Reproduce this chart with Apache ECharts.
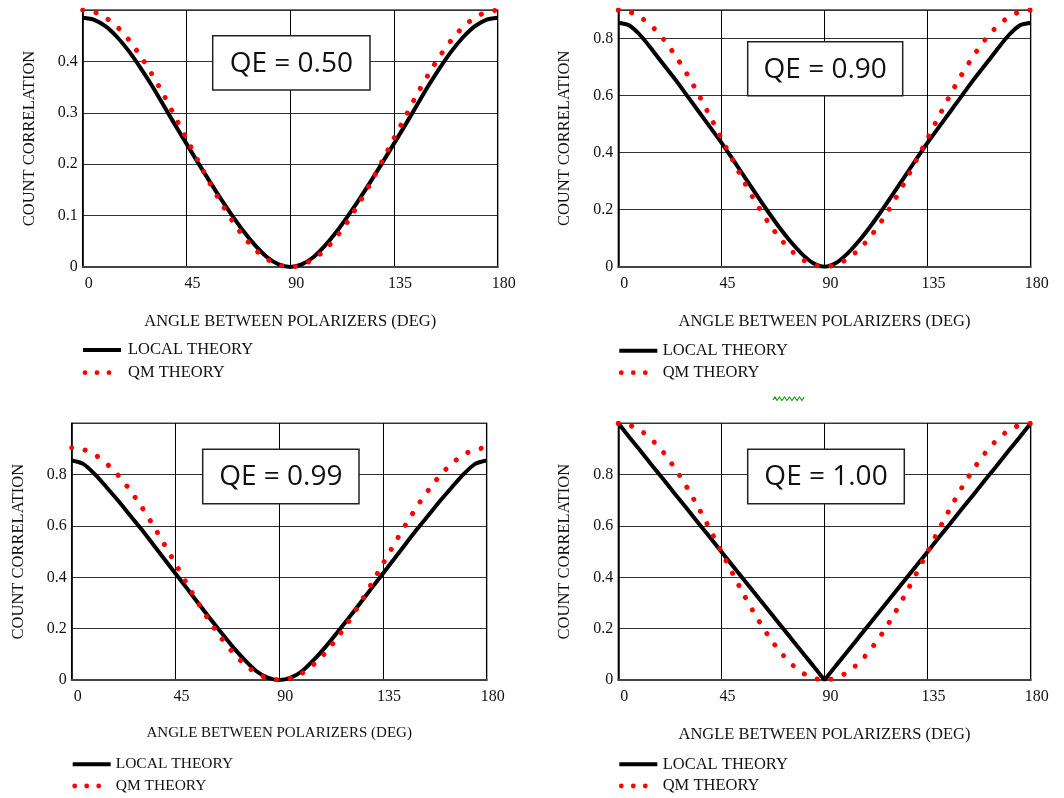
<!DOCTYPE html>
<html>
<head>
<meta charset="utf-8">
<script src="https://cdn.jsdelivr.net/npm/echarts@6/dist/echarts.min.js"></script>
<style>
html,body{margin:0;padding:0;background:#fff;}
#chart{width:1064px;height:798px;}
</style>
</head>
<body>
<div id="chart"></div>
<script>
// ---- data ----
const angles = [0,5,10,15,20,25,30,35,40,45,50,55,60,65,70,75,80,85,90,95,100,105,110,115,120,125,130,135,140,145,150,155,160,165,170,175,180];

const localQE050 = [0.485,0.481,0.468,0.447,0.420,0.388,0.353,0.315,0.277,0.240,0.203,0.167,0.132,0.099,0.068,0.041,0.019,0.005,0.000,0.005,0.019,0.041,0.068,0.099,0.132,0.167,0.203,0.240,0.277,0.315,0.353,0.388,0.420,0.447,0.468,0.481,0.485];
const qmQE050    = [0.500,0.496,0.485,0.467,0.442,0.411,0.375,0.336,0.293,0.250,0.207,0.164,0.125,0.089,0.058,0.033,0.015,0.004,0.000,0.004,0.015,0.033,0.058,0.089,0.125,0.164,0.207,0.250,0.293,0.336,0.375,0.411,0.442,0.467,0.485,0.496,0.500];

const localQE090 = [0.855,0.845,0.808,0.758,0.706,0.655,0.600,0.545,0.490,0.435,0.376,0.316,0.256,0.197,0.141,0.090,0.046,0.013,0.000,0.013,0.046,0.090,0.141,0.197,0.256,0.316,0.376,0.435,0.490,0.545,0.600,0.655,0.706,0.758,0.808,0.845,0.855];
const qmQE090    = [0.900,0.893,0.873,0.840,0.795,0.739,0.675,0.604,0.528,0.450,0.372,0.296,0.225,0.161,0.105,0.060,0.027,0.007,0.000,0.007,0.027,0.060,0.105,0.161,0.225,0.296,0.372,0.450,0.528,0.604,0.675,0.739,0.795,0.840,0.873,0.893,0.900];

const localQE099 = [0.855,0.842,0.802,0.752,0.700,0.645,0.590,0.532,0.473,0.415,0.357,0.298,0.240,0.183,0.128,0.078,0.035,0.009,0.000,0.009,0.035,0.078,0.128,0.183,0.240,0.298,0.357,0.415,0.473,0.532,0.590,0.645,0.700,0.752,0.802,0.842,0.855];
const qmQE099    = [0.905,0.898,0.878,0.844,0.799,0.743,0.679,0.607,0.531,0.453,0.374,0.298,0.226,0.162,0.106,0.061,0.027,0.007,0.000,0.007,0.027,0.061,0.106,0.162,0.226,0.298,0.374,0.453,0.531,0.607,0.679,0.743,0.799,0.844,0.878,0.898,0.905];

const localQE100 = [1.000,0.944,0.889,0.833,0.778,0.722,0.667,0.611,0.556,0.500,0.444,0.389,0.333,0.278,0.222,0.167,0.111,0.056,0.000,0.056,0.111,0.167,0.222,0.278,0.333,0.389,0.444,0.500,0.556,0.611,0.667,0.722,0.778,0.833,0.889,0.944,1.000];
const qmQE100    = [1.000,0.992,0.970,0.933,0.883,0.821,0.750,0.671,0.587,0.500,0.413,0.329,0.250,0.179,0.117,0.067,0.030,0.008,0.000,0.008,0.030,0.067,0.117,0.179,0.250,0.329,0.413,0.500,0.587,0.671,0.750,0.821,0.883,0.933,0.970,0.992,1.000];

const panelLabels = ['QE = 0.50','QE = 0.90','QE = 0.99','QE = 1.00'];
const yMaxes = [0.5, 0.9, 1.0, 1.0];
const yIntervals = [0.1, 0.2, 0.2, 0.2];
const xAxisTitle = 'ANGLE BETWEEN POLARIZERS (DEG)';
const yAxisTitle = 'COUNT CORRELATION';
const legendNames = ['LOCAL THEORY', 'QM THEORY'];

const localSets = [localQE050, localQE090, localQE099, localQE100];
const qmSets = [qmQE050, qmQE090, qmQE099, qmQE100];

// ---- layout ----
const grids = [
  {left: 82.7, top: 10, width: 415, height: 257},
  {left: 618.3, top: 10, width: 412.4, height: 256.7},
  {left: 71.7, top: 423.3, width: 415, height: 256.7},
  {left: 618.3, top: 423.3, width: 412.4, height: 256.7}
];
const boxes = [
  {x: 212.7, y: 35.7, w: 157.3, h: 54.3},
  {x: 747.7, y: 41.7, w: 155, h: 54},
  {x: 202.7, y: 449.3, w: 156.3, h: 54.4},
  {x: 747.7, y: 449.3, w: 156.6, h: 54.4}
];
const legendPos = [
  {x: 83, y1: 350, y2: 372.7, tx: 128},
  {x: 619.3, y1: 350.7, y2: 372.7, tx: 662.7},
  {x: 72.7, y1: 764.3, y2: 786, tx: 115.7},
  {x: 619.3, y1: 764.3, y2: 786, tx: 662.7}
];

const SERIF = '"Liberation Serif", "Times New Roman", serif';

const option = {
  backgroundColor: '#fff',
  animation: false,
  grid: grids.map(g => Object.assign({show: true, borderColor: '#444', borderWidth: 1.5, backgroundColor: 'transparent', containLabel: false}, g)),
  xAxis: grids.map((g, i) => ({
    gridIndex: i, type: 'value', min: 0, max: 180, interval: 45,
    axisLine: {show: true, onZero: false, lineStyle: {color: '#444', width: 2}},
    axisTick: {show: false},
    splitLine: {show: true, lineStyle: {color: '#000', width: 1}},
    axisLabel: {fontFamily: SERIF, fontSize: 16, color: '#111', margin: 9, padding: [0, 0, 0, 12]},
    name: xAxisTitle, nameLocation: 'middle', nameGap: 46,
    nameTextStyle: {fontFamily: SERIF, fontSize: i === 2 ? 15 : 16.5, color: '#111'}
  })),
  yAxis: grids.map((g, i) => ({
    gridIndex: i, type: 'value', min: 0, max: yMaxes[i], interval: yIntervals[i],
    axisLine: {show: true, onZero: false, lineStyle: {color: '#000', width: 1.5}},
    axisTick: {show: false},
    splitLine: {show: true, lineStyle: {color: '#333', width: 1}},
    axisLabel: {fontFamily: SERIF, fontSize: 16, color: '#111', margin: 5, showMaxLabel: false},
    name: yAxisTitle, nameLocation: 'middle', nameGap: 45,
    nameTextStyle: {fontFamily: SERIF, fontSize: 16.5, color: '#111'}
  })),
  series: [],
  graphic: []
};

for (let i = 0; i < 4; i++) {
  option.series.push({
    name: legendNames[0], type: 'line', xAxisIndex: i, yAxisIndex: i,
    data: angles.map((a, j) => [a, localSets[i][j]]),
    symbol: 'none', smooth: i === 3 ? false : 0.25,
    lineStyle: {color: '#000', width: 4}, z: 2
  });
  option.series.push({
    name: legendNames[1], type: 'line', xAxisIndex: i, yAxisIndex: i,
    data: angles.map((a, j) => [a, qmSets[i][j]]),
    symbol: 'none', smooth: 0.25,
    lineStyle: {color: '#ff0000', width: 5, type: [0.1, 13.8], cap: 'round'}, z: 3
  });

  const b = boxes[i];
  option.graphic.push({
    type: 'rect', z: 100,
    shape: {x: b.x, y: b.y, width: b.w, height: b.h},
    style: {fill: '#fff', stroke: '#222', lineWidth: 1.5}
  });
  option.graphic.push({
    type: 'text', z: 101,
    x: b.x + b.w / 2, y: b.y + b.h / 2 + 1,
    style: {text: panelLabels[i], fill: '#111', font: '28px "Open Sans", "Noto Sans", sans-serif', textAlign: 'center', textVerticalAlign: 'middle'}
  });

  const L = legendPos[i];
  option.graphic.push({
    type: 'line', z: 100,
    shape: {x1: L.x, y1: L.y1, x2: L.x + 38, y2: L.y1},
    style: {stroke: '#000', lineWidth: 4}
  });
  [2, 14, 26].forEach(dx => option.graphic.push({
    type: 'circle', z: 100,
    shape: {cx: L.x + dx, cy: L.y2, r: 2.4},
    style: {fill: '#ff0000'}
  }));
  option.graphic.push({
    type: 'text', z: 100, x: L.tx, y: L.y1,
    style: {text: legendNames[0], fill: '#111', font: (i === 2 ? '15.5px ' : '16.5px ') + SERIF, textVerticalAlign: 'middle'}
  });
  option.graphic.push({
    type: 'text', z: 100, x: L.tx, y: L.y2,
    style: {text: legendNames[1], fill: '#111', font: (i === 2 ? '15.5px ' : '16.5px ') + SERIF, textVerticalAlign: 'middle'}
  });
}

// small green squiggle between the panels
option.graphic.push({
  type: 'polyline', z: 100,
  shape: {points: [[773,400],[775,397],[777,400.5],[779.5,397],[782,400.5],[784.5,397],[787,400.5],[789.5,397],[792,400.5],[794.5,397],[797,400.5],[799.5,397],[802,400.5],[804,397]]},
  style: {stroke: '#1e9a1e', lineWidth: 1.2, fill: null}
});

const chart = echarts.init(document.getElementById('chart'), null, {renderer: 'canvas'});
chart.setOption(option);
</script>
</body>
</html>
